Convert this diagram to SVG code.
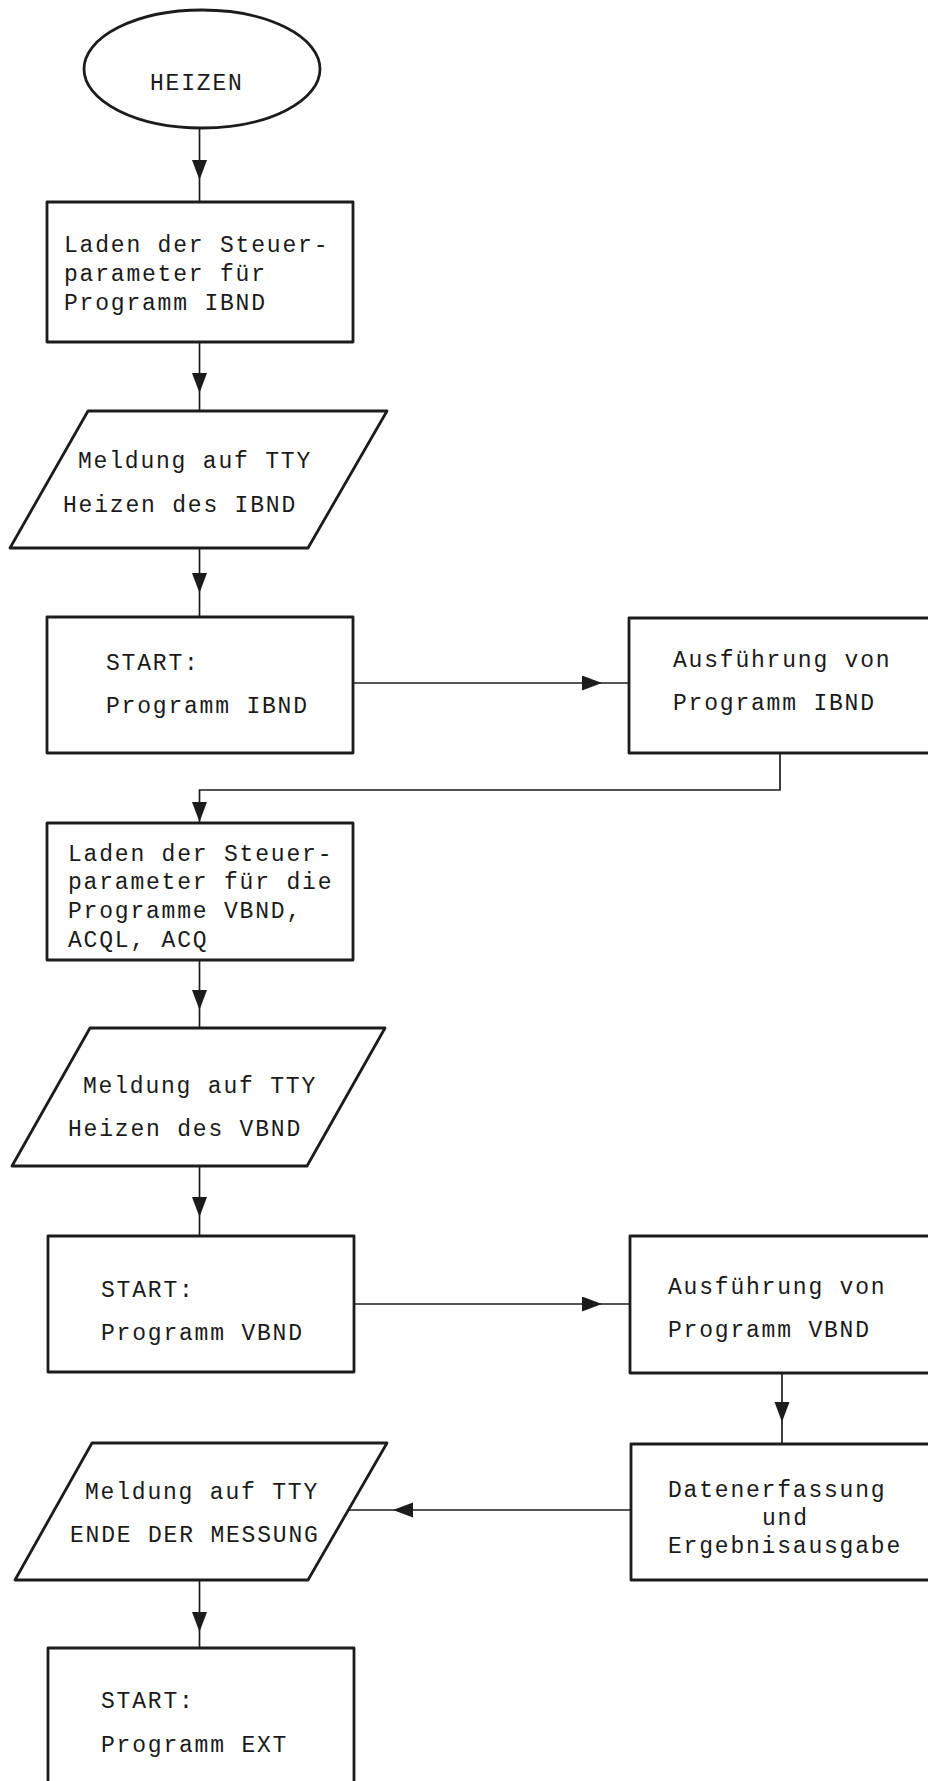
<svg xmlns="http://www.w3.org/2000/svg" width="928" height="1781" viewBox="0 0 928 1781">
  <style>
    .shape { fill: #ffffff; stroke: #1c1c1c; stroke-width: 2.8; stroke-linejoin: round; }
    .conn { fill: none; stroke: #1c1c1c; stroke-width: 1.7; }
    .t { font-family: "Liberation Mono", "DejaVu Sans Mono", monospace; font-size: 23px; letter-spacing: 1.8px; fill: #1a1a1a; }
  </style>
  <defs>
    <marker id="head" markerUnits="userSpaceOnUse" markerWidth="22" markerHeight="16" refX="20" refY="7.5" orient="auto">
      <path d="M0,0 L20,7.5 L0,15 Z" fill="#1c1c1c"/>
    </marker>
  </defs>
  <rect width="928" height="1781" fill="#ffffff"/>

  <!-- connectors -->
  <g id="connectors">
    <path class="conn" d="M199.5,128 L199.5,180 L199.5,202" marker-mid="url(#head)"/>
    <path class="conn" d="M199.5,342 L199.5,393 L199.5,411" marker-mid="url(#head)"/>
    <path class="conn" d="M199.5,548 L199.5,593 L199.5,617" marker-mid="url(#head)"/>
    <path class="conn" d="M353,683 L602,683 L629,683" marker-mid="url(#head)"/>
    <path class="conn" d="M780,753 V790 H199.5 V822" marker-end="url(#head)"/>
    <path class="conn" d="M199.5,960 L199.5,1010 L199.5,1028" marker-mid="url(#head)"/>
    <path class="conn" d="M199.5,1166 L199.5,1217 L199.5,1236" marker-mid="url(#head)"/>
    <path class="conn" d="M354,1304 L602,1304 L630,1304" marker-mid="url(#head)"/>
    <path class="conn" d="M782,1373 L782,1422 L782,1444" marker-mid="url(#head)"/>
    <path class="conn" d="M631,1510 L393,1510 L348.5,1510" marker-mid="url(#head)"/>
    <path class="conn" d="M199.5,1580 L199.5,1632 L199.5,1648" marker-mid="url(#head)"/>
  </g>

  <!-- start terminal -->
  <g id="heizen">
    <ellipse class="shape" cx="202" cy="69" rx="118" ry="59"/>
    <text class="t" x="150" y="90">HEIZEN</text>
  </g>

  <g id="laden-ibnd">
    <rect class="shape" x="47" y="202" width="306" height="140"/>
    <text class="t" x="64" y="252">Laden der Steuer-</text>
    <text class="t" x="64" y="281">parameter für</text>
    <text class="t" x="64" y="310">Programm IBND</text>
  </g>

  <g id="meldung-ibnd">
    <polygon class="shape" points="88,411 387,411 308,548 10,548"/>
    <text class="t" x="78" y="468">Meldung auf TTY</text>
    <text class="t" x="63" y="512">Heizen des IBND</text>
  </g>

  <g id="start-ibnd">
    <rect class="shape" x="47" y="617" width="306" height="136"/>
    <text class="t" x="106" y="670">START:</text>
    <text class="t" x="106" y="713">Programm IBND</text>
  </g>

  <g id="run-ibnd">
    <rect class="shape" x="629" y="618" width="320" height="135"/>
    <text class="t" x="673" y="667">Ausführung von</text>
    <text class="t" x="673" y="710">Programm IBND</text>
  </g>

  <g id="laden-vbnd">
    <rect class="shape" x="47" y="823" width="306" height="137"/>
    <text class="t" x="68" y="861">Laden der Steuer-</text>
    <text class="t" x="68" y="889">parameter für die</text>
    <text class="t" x="68" y="918">Programme VBND,</text>
    <text class="t" x="68" y="947">ACQL, ACQ</text>
  </g>

  <g id="meldung-vbnd">
    <polygon class="shape" points="90,1028 385,1028 307,1166 12,1166"/>
    <text class="t" x="83" y="1093">Meldung auf TTY</text>
    <text class="t" x="68" y="1136">Heizen des VBND</text>
  </g>

  <g id="start-vbnd">
    <rect class="shape" x="48" y="1236" width="306" height="136"/>
    <text class="t" x="101" y="1297">START:</text>
    <text class="t" x="101" y="1340">Programm VBND</text>
  </g>

  <g id="run-vbnd">
    <rect class="shape" x="630" y="1236" width="320" height="137"/>
    <text class="t" x="668" y="1294">Ausführung von</text>
    <text class="t" x="668" y="1337">Programm VBND</text>
  </g>

  <g id="daten">
    <rect class="shape" x="631" y="1444" width="320" height="136"/>
    <text class="t" x="668" y="1497">Datenerfassung</text>
    <text class="t" x="762" y="1525">und</text>
    <text class="t" x="668" y="1553">Ergebnisausgabe</text>
  </g>

  <g id="meldung-ende">
    <polygon class="shape" points="92,1443 387,1443 308,1580 15,1580"/>
    <text class="t" x="85" y="1499">Meldung auf TTY</text>
    <text class="t" x="70" y="1542">ENDE DER MESSUNG</text>
  </g>

  <g id="start-ext">
    <rect class="shape" x="48" y="1648" width="306" height="150"/>
    <text class="t" x="101" y="1708">START:</text>
    <text class="t" x="101" y="1752">Programm EXT</text>
  </g>
</svg>
